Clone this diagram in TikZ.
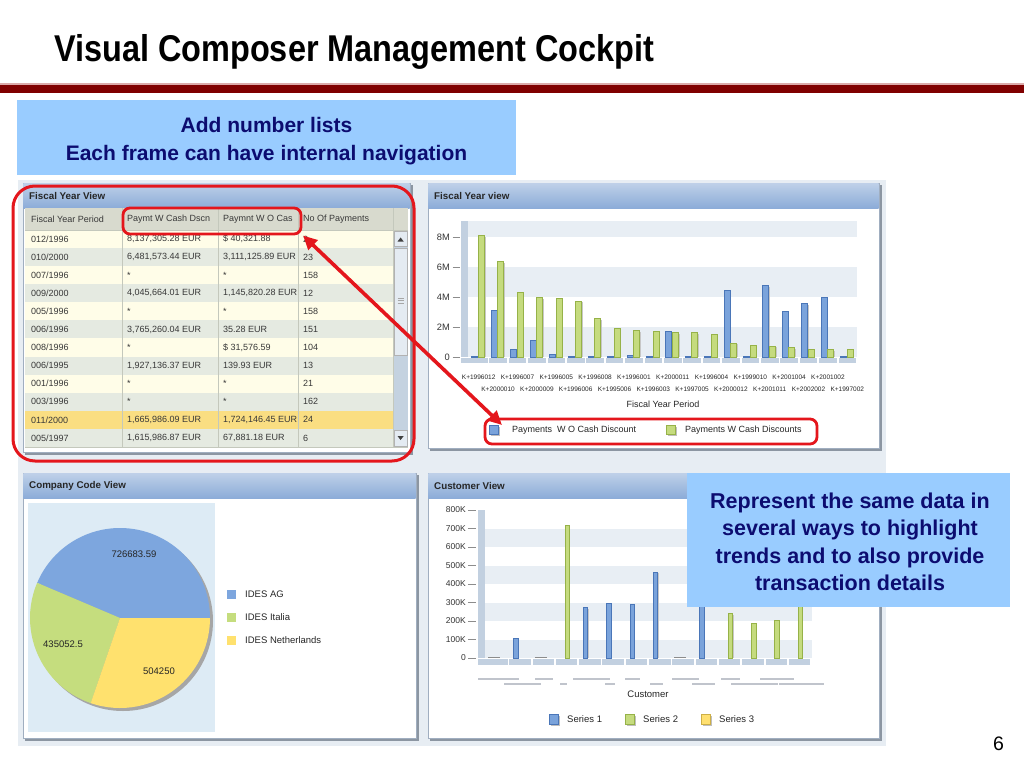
\documentclass[tikz,border=0pt]{standalone}
\usepackage{fontspec}
\setmainfont{Liberation Sans}
\newfontfamily\titlefont[FakeStretch=0.87]{Liberation Sans}
\usetikzlibrary{arrows.meta,calc}
\definecolor{rulered}{RGB}{128,0,0}
\definecolor{rulepink}{RGB}{220,170,170}
\definecolor{callblue}{RGB}{153,204,255}
\definecolor{navytext}{RGB}{12,12,112}
\definecolor{shotbg}{RGB}{231,237,243}
\definecolor{hdrtop}{RGB}{190,208,232}
\definecolor{hdrbot}{RGB}{140,172,216}
\definecolor{panelborder}{RGB}{160,174,192}
\definecolor{panelshadow}{RGB}{140,150,162}
\definecolor{tblhead}{RGB}{216,218,206}
\definecolor{rowcream}{RGB}{255,253,232}
\definecolor{rowgrey}{RGB}{229,234,225}
\definecolor{rowhl}{RGB}{250,222,130}
\definecolor{colsep}{RGB}{196,200,188}
\definecolor{scrolltrack}{RGB}{196,210,224}
\definecolor{scrollthumb}{RGB}{228,235,242}
\definecolor{bblueF}{RGB}{122,163,219}
\definecolor{bblueD}{RGB}{74,118,184}
\definecolor{bgreenF}{RGB}{197,219,126}
\definecolor{bgreenD}{RGB}{150,178,72}
\definecolor{byellowF}{RGB}{255,224,112}
\definecolor{byellowD}{RGB}{205,175,70}
\definecolor{band}{RGB}{232,238,244}
\definecolor{wall}{RGB}{194,208,224}
\definecolor{piebg}{RGB}{221,235,245}
\definecolor{pieblue}{RGB}{125,166,222}
\definecolor{piegreen}{RGB}{197,221,126}
\definecolor{pieyellow}{RGB}{255,225,110}
\definecolor{markred}{RGB}{228,22,28}
\definecolor{tinytext}{RGB}{192,196,204}
\tikzset{
  paneltitle/.style={anchor=west, inner sep=0, font=\bfseries\fontsize{9.8}{11}\selectfont, text=black!85},
  cell/.style={anchor=west, inner sep=0, font=\fontsize{9}{10}\selectfont, text=black!78},
  axlbl/.style={anchor=east, inner sep=0, font=\fontsize{9.3}{10}\selectfont, text=black!80},
  klbl/.style={inner sep=0, font=\fontsize{6.5}{7}\selectfont, text=black!85},
  legtxt/.style={anchor=west, inner sep=0, font=\fontsize{9.5}{10}\selectfont, text=black!85},
  pielbl/.style={inner sep=0, font=\fontsize{9.5}{10}\selectfont, text=black!85},
  redbox/.style={draw=markred, line width=2.8pt, rounded corners=7pt, inner sep=0, outer sep=0},
  navytxt/.style={anchor=base, inner sep=0, text=navytext},
  tickline/.style={draw=black!45, line width=0.5pt},
  bblue/.style={fill=bblueF, draw=bblueD, line width=0.5pt},
  bgreen/.style={fill=bgreenF, draw=bgreenD, line width=0.5pt},
  byellow/.style={fill=byellowF, draw=byellowD, line width=0.5pt},
  barshade/.style={fill=black!22},
  redarrow/.style={draw=markred, line width=3.6pt, arrows={Triangle[length=14pt,width=13pt]-Triangle[length=14pt,width=13pt]}}
}
\newcommand\vcpanel[6]{%
  \fill[panelshadow] (#2+2,#3+2) rectangle (#4+2.5,#5+2.5);
  \filldraw[fill=white, draw=panelborder, line width=0.6pt] (#2,#3) rectangle (#4,#5);
  \shade[top color=hdrtop, bottom color=hdrbot] (#2+0.3,#3+0.3) rectangle (#4-0.3,#3+25);
  \node[paneltitle] (#1) at (#2+6,#3+13) {#6};
}
\begin{document}
\begin{tikzpicture}[x=1pt,y=-1pt]
\useasboundingbox (0,0) rectangle (1024,768);
\fill[white] (0,0) rectangle (1024,768);

% ---------- title ----------
\node[anchor=base west, inner sep=0, font=\titlefont\bfseries\fontsize{37.3}{40}\selectfont] (title) at (54,61) {Visual Composer Management Cockpit};
\fill[rulepink] (0,83) rectangle (1024,85);
\fill[rulered] (0,85) rectangle (1024,93);

% ---------- callout 1 ----------
\node[fill=callblue, inner sep=0, outer sep=0, minimum width=499, minimum height=75, anchor=north west] (addbox) at (17,100) {};
\node[navytxt, font=\bfseries\fontsize{21}{24}\selectfont] (add1) at (266.5,132.3) {Add number lists};
\node[navytxt, font=\bfseries\fontsize{21}{24}\selectfont] (add2) at (266.5,160.3) {Each frame can have internal navigation};

% ---------- screenshot background ----------
\fill[shotbg] (18,180) rectangle (886,746);

% ---------- panel 1 : table ----------
\vcpanel{p1t}{23}{183}{410}{452}{Fiscal Year View}
\fill[tblhead] (25,208) rectangle (408,230);
\foreach \i in {1,...,12}{
  \ifnum\i=11 \def\rc{rowhl}\else\ifodd\i\def\rc{rowcream}\else\def\rc{rowgrey}\fi\fi
  \fill[\rc] (25,{230+18.08*(\i-1)}) rectangle (393,{230+18.08*\i});
}
\foreach \xx in {122,218,298,393}{\draw[colsep, line width=0.7pt] (\xx,208) -- (\xx,447);}
\draw[colsep, line width=0.7pt] (25,230) -- (408,230);
\draw[colsep, line width=0.7pt] (25,447) -- (408,447);
\begin{scope}
  \clip (25,208) rectangle (121,447);
  \node[cell] (h1) at (31,219.5) {Fiscal Year Period};
  \foreach \t [count=\i] in {012/1996,010/2000,007/1996,009/2000,005/1996,006/1996,008/1996,006/1995,001/1996,003/1996,011/2000,005/1997}
    \node[cell] (ca\i) at (31,{230+18.08*(\i-0.5)}) {\t};
\end{scope}
\begin{scope}
  \clip (123,208) rectangle (217,447);
  \node[cell] (h2) at (127,219.5) {Paymt W Cash Dscn};
  \foreach \t [count=\i] in {{8,137,305.28 EUR},{6,481,573.44 EUR},*,{4,045,664.01 EUR},*,{3,765,260.04 EUR},*,{1,927,136.37 EUR},*,*,{1,665,986.09 EUR},{1,615,986.87 EUR}}
    \node[cell] (cb\i) at (127,{230+18.08*(\i-0.5)}) {\t};
\end{scope}
\begin{scope}
  \clip (219,208) rectangle (297,447);
  \node[cell] (h3) at (223,219.5) {Paymnt W O Cas};
  \foreach \t [count=\i] in {{\$ 40,321.88},{3,111,125.89 EUR},*,{1,145,820.28 EUR},*,{35.28 EUR},{\$ 31,576.59},{139.93 EUR},*,*,{1,724,146.45 EUR},{67,881.18 EUR}}
    \node[cell] (cc\i) at (223,{230+18.08*(\i-0.5)}) {\t};
\end{scope}
\begin{scope}
  \clip (299,208) rectangle (392,447);
  \node[cell] (h4) at (303,219.5) {No Of Payments};
  \foreach \t [count=\i] in {2,23,158,12,158,151,104,13,21,162,24,6}
    \node[cell] (cd\i) at (303,{230+18.08*(\i-0.5)}) {\t};
\end{scope}
% scrollbar
\fill[scrolltrack] (393.5,230.5) rectangle (408,447);
\filldraw[fill=scrollthumb, draw=black!30, line width=0.5pt] (394,231) rectangle (407.5,246.5);
\fill[black!75] (397.5,241.5) -- (403.7,241.5) -- (400.6,237.5) -- cycle;
\filldraw[fill=scrollthumb, draw=black!30, line width=0.5pt] (394.5,248.5) rectangle (407,355);
\foreach \yy in {298,300.5,303}{\draw[black!35, line width=0.5pt] (397.5,\yy) -- (403.5,\yy);}
\filldraw[fill=scrollthumb, draw=black!30, line width=0.5pt] (394,430.5) rectangle (407.5,446.5);
\fill[black!75] (397.5,436) -- (403.7,436) -- (400.6,440) -- cycle;

% ---------- panel 2 : fiscal year chart ----------
\vcpanel{p2t}{428}{183}{879}{448}{Fiscal Year view}
\fill[band] (468,221) rectangle (857,237);
\fill[band] (468,267) rectangle (857,297);
\fill[band] (468,327) rectangle (857,357);
\fill[wall] (461,221) rectangle (468,357);
\fill[wall] (461,357.5) rectangle (487.6,363);
\foreach \i in {1,...,19}{\fill[wall] ({469+19.4*\i+0.9},357.5) rectangle ({469+19.4*(\i+1)-0.9},363);}
\foreach \v/\lab [count=\k] in {8/8M,6/6M,4/4M,2/2M,0/0}{
  \node[axlbl] (fy\k) at (450,{357-15*\v}) {\lab};
  \draw[tickline] (452.5,{357-15*\v}) -- (460,{357-15*\v});
}
\foreach \b/\g [count=\i from 0] in {0.05/8.1,3.1/6.4,0.5/4.3,1.15/4.0,0.2/3.9,0.05/3.75,0.05/2.6,0.05/1.95,0.1/1.8,0.05/1.7,1.7/1.65,0.05/1.65,0.05/1.55,4.45/0.95,0.05/0.8,4.8/0.75,3.05/0.65,3.6/0.55,4.0/0.5,0.05/0.5}{
  \pgfmathsetmacro\xb{471.7+19.4*\i}
  \fill[barshade] ({\xb+1.3},{357-15*\b+1.5}) rectangle ({\xb+7.3},357);
  \filldraw[bblue] (\xb,{357-15*\b}) rectangle ({\xb+6},357);
  \fill[barshade] ({\xb+7.9},{357-15*\g+1.5}) rectangle ({\xb+13.9},357);
  \filldraw[bgreen] ({\xb+6.6},{357-15*\g}) rectangle ({\xb+12.6},357);
}
\foreach \t [count=\i from 0] in {K+1996012,K+1996007,K+1996005,K+1996008,K+1996001,K+2000011,K+1996004,K+1999010,K+2001004,K+2001002}
  \node[klbl] (ka\i) at ({469+19.4*(2*\i+0.5)},377) {\t};
\foreach \t [count=\i from 0] in {K+2000010,K+2000009,K+1996006,K+1995006,K+1996003,K+1997005,K+2000012,K+2001011,K+2002002,K+1997002}
  \node[klbl] (kb\i) at ({469+19.4*(2*\i+1.5)},389) {\t};
\node[inner sep=0, font=\fontsize{9}{10}\selectfont, text=black!85] (fyp) at (663,404) {Fiscal Year Period};
\fill[black!25] (490.5,426.5) rectangle (499.5,435.5);
\filldraw[bblue] (489,425) rectangle (498,434);
\node[legtxt, font=\fontsize{9}{10}\selectfont] (lg1) at (512,430) {Payments \ W O Cash Discount};
\fill[black!25] (667.5,426.5) rectangle (676.5,435.5);
\filldraw[bgreen] (666,425) rectangle (675,434);
\node[legtxt, font=\fontsize{9}{10}\selectfont] (lg2) at (685,430) {Payments W Cash Discounts};

% ---------- panel 3 : pie ----------
\vcpanel{p3t}{23}{473}{416}{738}{Company Code View}
\fill[piebg] (28,503) rectangle (215,732);
\coordinate (pc) at (120,618);
\fill[black!35] (123,621) circle[radius=90];
\fill[pieblue] (pc) -- ++(0:90) arc[start angle=0, end angle=-157, radius=90] -- cycle;
\fill[piegreen] (pc) -- ++(-157:90) arc[start angle=-157, end angle=-251, radius=90] -- cycle;
\fill[pieyellow] (pc) -- ++(-251:90) arc[start angle=-251, end angle=-360, radius=90] -- cycle;
\node[pielbl] (pv1) at (134,554) {726683.59};
\node[pielbl] (pv2) at (63,644) {435052.5};
\node[pielbl] (pv3) at (159,671) {504250};
\fill[pieblue] (227,590) rectangle (236,599);
\node[legtxt] (pl1) at (245,594.5) {IDES AG};
\fill[piegreen] (227,613) rectangle (236,622);
\node[legtxt] (pl2) at (245,617.5) {IDES Italia};
\fill[pieyellow] (227,636) rectangle (236,645);
\node[legtxt] (pl3) at (245,640.5) {IDES Netherlands};

% ---------- panel 4 : customer chart ----------
\vcpanel{p4t}{428}{473}{879}{738}{Customer View}
\foreach \k in {0,2,4,6}{\fill[band] (485,{658-18.5*\k}) rectangle (812,{658-18.5*(\k+1)});}
\fill[wall] (478,510) rectangle (485,658);
\fill[wall] (478,658.5) rectangle (507.5,665);
\foreach \i in {1,...,13}{\fill[wall] ({485+23.3*\i+0.9},658.5) rectangle ({485+23.3*(\i+1)-0.9},665);}
\foreach \lab [count=\k from 0] in {0,100K,200K,300K,400K,500K,600K,700K,800K}{
  \node[axlbl, font=\fontsize{8.5}{10}\selectfont] (cy\k) at (466,{658-18.5*\k}) {\lab};
  \draw[tickline] (468,{658-18.5*\k}) -- (476,{658-18.5*\k});
}
\foreach \s/\v [count=\i from 0] in {0/0,1/105,0/0,2/720,1/275,1/295,1/290,1/465,0/0,1/290,2/240,2/190,2/205,2/295}{
  \pgfmathsetmacro\xd{485+23.3*\i}
  \ifcase\s
    \draw[black!45, line width=0.8pt] ({\xd+3},657.4) -- ({\xd+15},657.4);
  \or
    \fill[barshade] ({\xd+6},{658-0.185*\v+1.5}) rectangle ({\xd+10.5},658);
    \filldraw[bblue] ({\xd+5},{658-0.185*\v}) rectangle ({\xd+9.5},658);
  \or
    \fill[barshade] ({\xd+11},{658-0.185*\v+1.5}) rectangle ({\xd+15.5},658);
    \filldraw[bgreen] ({\xd+10},{658-0.185*\v}) rectangle ({\xd+14.5},658);
  \fi
}
% illegible customer names (drawn as faint strokes)
\foreach \a/\b in {478/519,535/553,573/610,625/640,672/699,721/740,760/794}{\draw[tinytext, line width=1.3pt] (\a,679) -- (\b,679);}
\foreach \a/\b in {504/541,560/567,605/615,650/663,692/715,731/778,779/824}{\draw[tinytext, line width=1.3pt] (\a,684) -- (\b,684);}
\node[inner sep=0, font=\fontsize{9.5}{10}\selectfont, text=black!85] (cust) at (648,694) {Customer};
\fill[black!25] (550.5,715.5) rectangle (559.5,725.5);
\filldraw[bblue] (549,714) rectangle (558,724);
\node[legtxt] (cs1) at (567,719) {Series 1};
\fill[black!25] (626.5,715.5) rectangle (635.5,725.5);
\filldraw[bgreen] (625,714) rectangle (634,724);
\node[legtxt] (cs2) at (643,719) {Series 2};
\fill[black!25] (702.5,715.5) rectangle (711.5,725.5);
\filldraw[byellow] (701,714) rectangle (710,724);
\node[legtxt] (cs3) at (719,719) {Series 3};

% ---------- red highlights ----------
\node[redbox, line width=3pt, rounded corners=22pt, minimum width=401, minimum height=275, anchor=north west] (fysel) at (13,186) {};
\node[redbox, minimum width=178, minimum height=26, anchor=north west] (hdrsel) at (123,208) {};
\node[redbox, minimum width=332, minimum height=25, anchor=north west] (legsel) at (485,419) {};
\draw[redarrow] ($(hdrsel.south east)+(2,1.5)$) -- ($(legsel.north west)+(17,6)$);

% ---------- callout 2 ----------
\node[fill=callblue, inner sep=0, outer sep=0, minimum width=323, minimum height=134, anchor=north west] (repbox) at (687,473) {};
\node[navytxt, font=\bfseries\fontsize{21.5}{24}\selectfont] (rep1) at (850,508) {Represent the same data in};
\node[navytxt, font=\bfseries\fontsize{21.5}{24}\selectfont] (rep2) at (850,535.5) {several ways to highlight};
\node[navytxt, font=\bfseries\fontsize{21.5}{24}\selectfont] (rep3) at (850,563) {trends and to also provide};
\node[navytxt, font=\bfseries\fontsize{21.5}{24}\selectfont] (rep4) at (850,590.5) {transaction details};

% ---------- page number ----------
\node[anchor=base, inner sep=0, font=\fontsize{19.5}{22}\selectfont] (pagenum) at (998.5,750.5) {6};
\end{tikzpicture}
\end{document}
